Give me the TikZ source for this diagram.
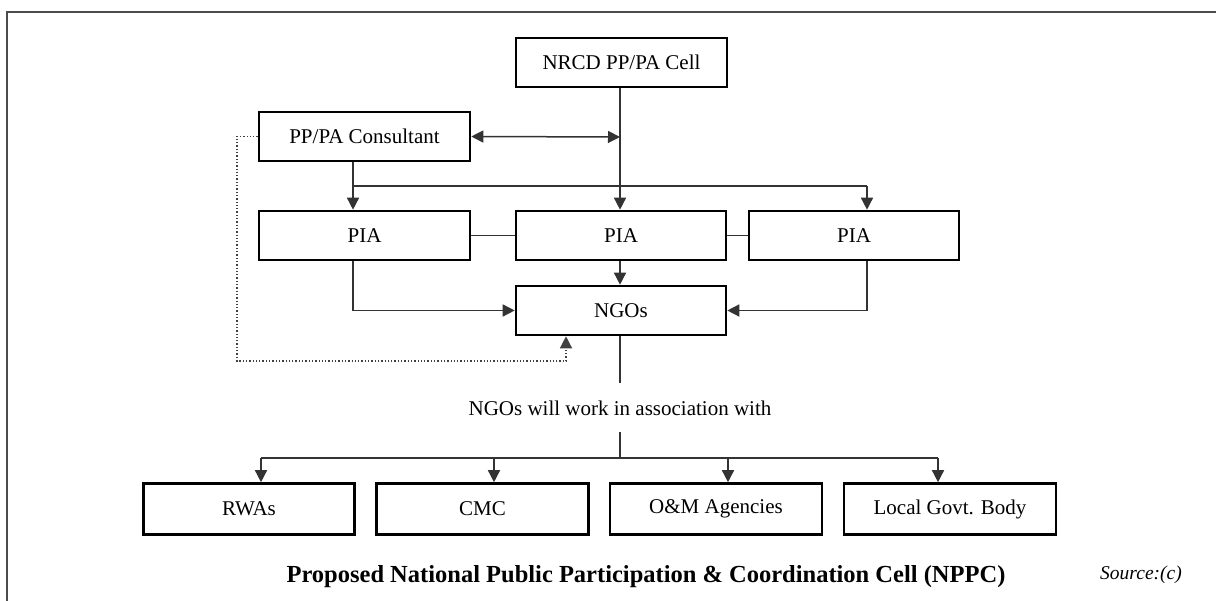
\documentclass[tikz,border=0pt]{standalone}
\usepackage{fontspec}
\setmainfont{Liberation Serif}
\usetikzlibrary{arrows.meta}
\begin{document}
\begin{tikzpicture}[x=1pt,y=-1pt,
  box/.style={draw=black,line width=2.6pt,rectangle,inner sep=0pt,
    minimum height=49pt,font=\fontsize{21}{24}\selectfont},
  wire/.style={draw=black!80,line width=1.5pt},
  arr/.style={wire,-{Triangle[length=12pt,width=12pt]}},
  dbl/.style={wire,{Triangle[length=12pt,width=12pt]}-{Triangle[length=12pt,width=12pt]}},
  dots/.style={draw=black!75,line width=1.3pt,dotted,-{Triangle[length=12pt,width=12pt]}}]
\useasboundingbox (0,0) rectangle (1216,601);
% outer frame (top and left edges)
\draw[black!70,line width=2pt] (7,601) -- (7,12) -- (1216,12);

% boxes
\node[box,minimum width=211pt] (nrcd) at (621.5,62.5) {NRCD PP/PA Cell};
\node[box,minimum width=211pt] (cons) at (364.5,136.5) {PP/PA Consultant};
\node[box,minimum width=211pt] (pia1) at (364.5,235.5) {PIA};
\node[box,minimum width=210pt] (pia2) at (621,235.5) {PIA};
\node[box,minimum width=210pt] (pia3) at (854,235.5) {PIA};
\node[box,minimum width=210pt] (ngo) at (621,310.5) {NGOs};
\node[font=\fontsize{21}{24}\selectfont] (assoc) at (620,408) {NGOs will work in association with};
\node[box,minimum width=211pt,minimum height=51pt] (rwa) at (249,509) {RWAs};
\node[box,minimum width=212pt,minimum height=51pt] (cmc) at (482.5,509) {CMC};
\node[box,minimum width=212pt,minimum height=51pt] (om) at (716,509) {O\&M Agencies};
\node[box,minimum width=212pt,minimum height=51pt] (lgb) at (950,509) {Local Govt. Body};
\node[font=\bfseries\fontsize{24.5}{28}\selectfont] (cap) at (646,577)
  {Proposed National Public Participation \& Coordination Cell (NPPC)};
\node[font=\itshape\fontsize{19.5}{22}\selectfont] (src) at (1141,575) {Source:(c)};

% reference points
\coordinate (xl) at (353,186);
\coordinate (xm) at (620,186);
\coordinate (xr) at (867,186);
\coordinate (cj) at (620,137);
\coordinate (dl) at (237,361);
\coordinate (dr) at (566,361);
\coordinate (ay) at (620,383);
\coordinate (by) at (620,432);
\coordinate (b1) at (261,458);
\coordinate (b2) at (494,458);
\coordinate (b3) at (728,458);
\coordinate (b4) at (938,458);

% top section
\draw[wire] (nrcd.south -| xm) -- (cj);
\draw[arr] (cj) -- (pia2.north -| xm);
\draw[dbl] (cons.east) -- (cj);
\draw[wire] (cons.south -| xl) -- (xl);
\draw[wire] (xl) -- (xr);
\draw[arr] (xl) -- (pia1.north -| xl);
\draw[arr] (xr) -- (pia3.north -| xr);

% PIA links
\draw[wire] (pia1.east) -- (pia2.west);
\draw[wire] (pia2.east) -- (pia3.west);
\draw[arr] (pia2.south -| xm) -- (ngo.north -| xm);
\draw[arr] (pia1.south -| xl) |- (ngo.west);
\draw[arr] (pia3.south -| xr) |- (ngo.east);

% dotted consultant link
\draw[dots] (cons.west) -| (dl) -- (dr) -- (ngo.south -| dr);

% association tree
\draw[wire] (ngo.south -| ay) -- (ay);
\draw[wire] (by) -- (by |- b1);
\draw[wire] (b1) -- (b4);
\draw[arr] (b1) -- (rwa.north -| b1);
\draw[arr] (b2) -- (cmc.north -| b2);
\draw[arr] (b3) -- (om.north -| b3);
\draw[arr] (b4) -- (lgb.north -| b4);
\end{tikzpicture}
\end{document}
